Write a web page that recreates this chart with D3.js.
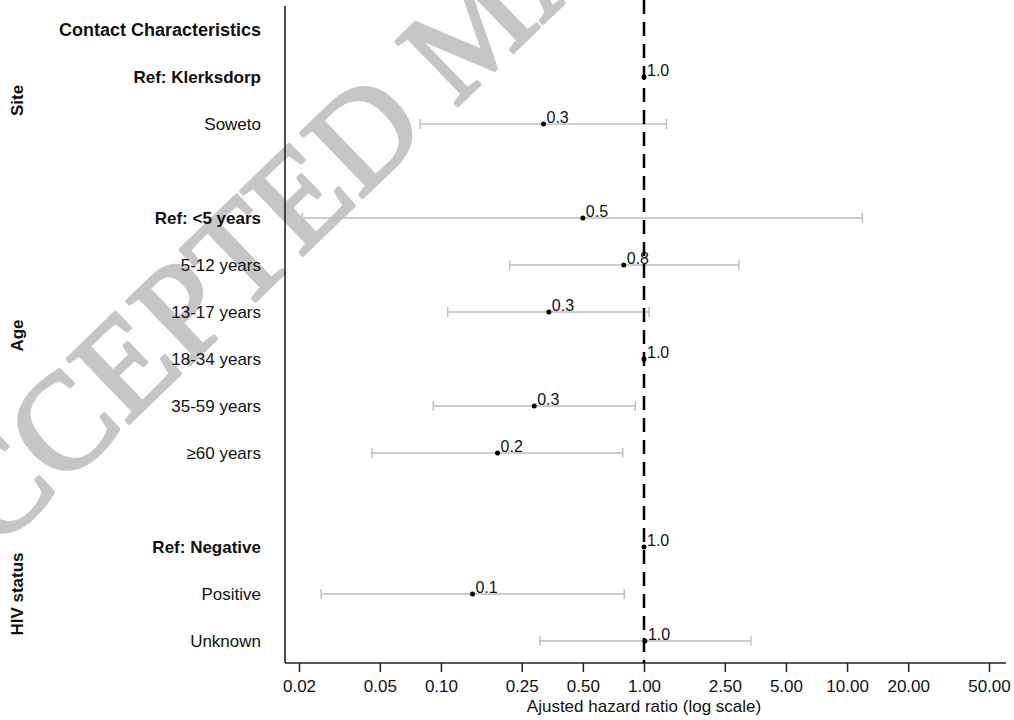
<!DOCTYPE html>
<html>
<head>
<meta charset="utf-8">
<script src="https://cdn.jsdelivr.net/npm/d3@7"></script>
<style>
  body { margin: 0; background: #fff; }
  text { font-family: "Liberation Sans", Arial, sans-serif; }
</style>
</head>
<body>
<script>
// rows top to bottom, "" = spacer row
const rowLabels = ["Contact Characteristics", "Ref: Klerksdorp", "Soweto", "",
  "Ref: <5 years", "5-12 years", "13-17 years", "18-34 years", "35-59 years", "≥60 years", "",
  "Ref: Negative", "Positive", "Unknown"];
const boldRows = ["Contact Characteristics", "Ref: Klerksdorp", "Ref: <5 years", "Ref: Negative"];

// hazard ratio and 95% CI per row (null = nothing drawn)
const hr    = [null, 1.00, 0.32, null, 0.50, 0.795, 0.34, 1.00, 0.288, 0.19, null, 1.00, 0.143, 1.01];
const lower = [null, null, 0.079, null, 0.0208, 0.218, 0.108, null, 0.0916, 0.0457, null, null, 0.0257, 0.307];
const upper = [null, null, 1.29, null, 11.9, 2.93, 1.06, null, 0.906, 0.786, null, null, 0.80, 3.36];

const groups = ["Site", "Age", "HIV status"];
const groupFirst = [1, 4, 11];
const groupLast = [2, 9, 13];

const tickValues = [0.02, 0.05, 0.10, 0.25, 0.50, 1.00, 2.50, 5.00, 10.00, 20.00, 50.00];

const W = 1014, H = 720;
const svg = d3.select("body").append("svg")
    .attr("width", W)
    .attr("height", H);

const x = d3.scaleLog()
    .domain([0.02, 50])
    .range([299, 989]);

const y = d3.scalePoint()
    .domain(d3.range(rowLabels.length))
    .range([30, 641]);

const axisY = 663, leftX = 285;

// watermark behind everything
svg.append("text")
    .attr("transform", "translate(-75,620) rotate(-44)")
    .style("font-family", "'Liberation Serif', 'Times New Roman', serif")
    .style("font-size", "136px")
    .attr("fill", "#c6c6c6")
    .attr("stroke", "#c6c6c6")
    .attr("stroke-width", 3.5)
    .attr("stroke-linejoin", "round")
    .text("ACCEPTED MANUSCRIPT");

// row labels
svg.append("g").selectAll("text")
    .data(rowLabels)
    .enter()
    .append("text")
    .attr("x", 261)
    .attr("y", (d, i) => y(i) + 6)
    .attr("text-anchor", "end")
    .style("font-size", (d, i) => i === 0 ? "18px" : "17px")
    .style("font-weight", d => boldRows.includes(d) ? "bold" : "normal")
    .attr("fill", "#111")
    .text(d => d);

// group labels
svg.append("g").selectAll("text")
    .data(groups)
    .enter()
    .append("text")
    .attr("transform", (d, i) => `translate(23,${(y(groupFirst[i]) + y(groupLast[i])) / 2}) rotate(-90)`)
    .attr("text-anchor", "middle")
    .style("font-size", "17px")
    .style("font-weight", "bold")
    .attr("fill", "#111")
    .text(d => d);

// x axis
const xAxis = d3.axisBottom(x)
    .tickValues(tickValues)
    .tickFormat(d3.format(".2f"))
    .tickSize(9)
    .tickPadding(8);

const gx = svg.append("g")
    .attr("transform", `translate(0,${axisY})`)
    .call(xAxis);
gx.select(".domain").remove();
gx.selectAll(".tick line").attr("stroke", "#222").attr("stroke-width", 1.5);
gx.selectAll(".tick text")
    .style("font-size", "17px")
    .attr("fill", "#111")
    .style("font-family", "'Liberation Sans', Arial, sans-serif");

svg.append("line")
    .attr("x1", leftX).attr("x2", 1006)
    .attr("y1", axisY).attr("y2", axisY)
    .attr("stroke", "#222").attr("stroke-width", 1.6);

svg.append("line")
    .attr("x1", leftX).attr("x2", leftX)
    .attr("y1", 6).attr("y2", axisY)
    .attr("stroke", "#222").attr("stroke-width", 1.6);

svg.append("text")
    .attr("x", x(1))
    .attr("y", 712)
    .attr("text-anchor", "middle")
    .style("font-size", "17px")
    .attr("fill", "#111")
    .text("Ajusted hazard ratio (log scale)");

// confidence intervals
const ciRows = d3.range(rowLabels.length).filter(i => lower[i] != null);
const ci = svg.append("g")
    .attr("stroke", "#bdbdbd")
    .attr("stroke-width", 1.4);
ci.selectAll(".ci")
    .data(ciRows)
    .enter()
    .append("line")
    .attr("x1", i => x(lower[i]))
    .attr("x2", i => x(upper[i]))
    .attr("y1", i => y(i))
    .attr("y2", i => y(i));
ci.selectAll(".capL")
    .data(ciRows)
    .enter()
    .append("line")
    .attr("x1", i => x(lower[i])).attr("x2", i => x(lower[i]))
    .attr("y1", i => y(i) - 5).attr("y2", i => y(i) + 5);
ci.selectAll(".capU")
    .data(ciRows)
    .enter()
    .append("line")
    .attr("x1", i => x(upper[i])).attr("x2", i => x(upper[i]))
    .attr("y1", i => y(i) - 5).attr("y2", i => y(i) + 5);

// reference line at 1
svg.append("line")
    .attr("x1", x(1)).attr("x2", x(1))
    .attr("y1", 0).attr("y2", axisY)
    .attr("stroke", "#000")
    .attr("stroke-width", 2.5)
    .attr("stroke-dasharray", "14,8");

// estimates
const estRows = d3.range(rowLabels.length).filter(i => hr[i] != null);
svg.append("g").selectAll("circle")
    .data(estRows)
    .enter()
    .append("circle")
    .attr("cx", i => x(hr[i]))
    .attr("cy", i => y(i))
    .attr("r", 2.5)
    .attr("fill", "#000");

svg.append("g").selectAll("text")
    .data(estRows)
    .enter()
    .append("text")
    .attr("x", i => x(hr[i]) + 3)
    .attr("y", i => y(i) - 1)
    .style("font-size", "16px")
    .attr("fill", "#111")
    .text(i => d3.format(".1f")(hr[i]));
</script>
</body>
</html>
